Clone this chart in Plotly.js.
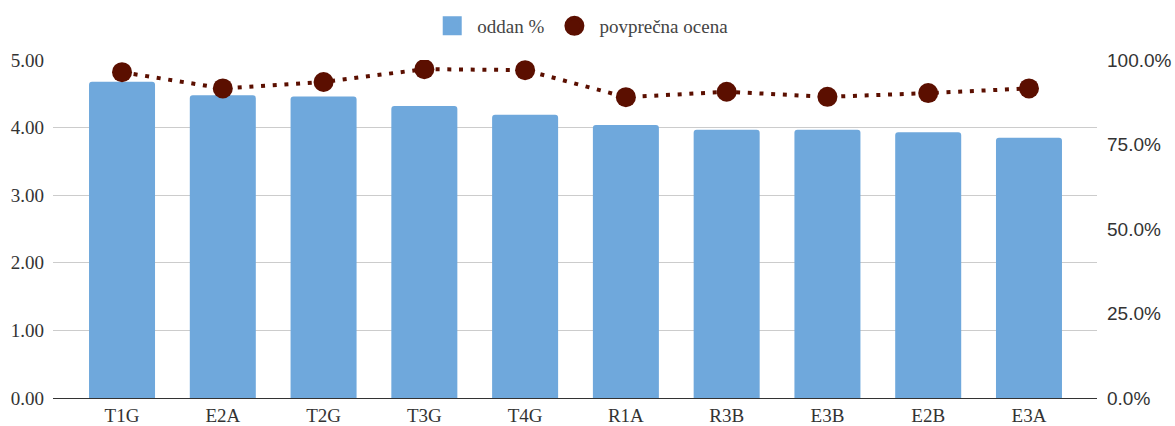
<!DOCTYPE html>
<html><head><meta charset="utf-8">
<script src="https://cdn.plot.ly/plotly-3.0.1.min.js"></script>
<style>html,body{margin:0;padding:0;background:#fff}#c{width:1175px;height:426px}</style>
</head><body><div id="c"></div>
<script>
var categories = ["T1G","E2A","T2G","T3G","T4G","R1A","R3B","E3B","E2B","E3A"];
var oddan = [4.68,4.48,4.46,4.32,4.19,4.04,3.97,3.97,3.93,3.85];
var ocena = [0.964,0.916,0.935,0.973,0.970,0.890,0.906,0.891,0.902,0.916];
var leftTicks = [0,1,2,3,4,5];
var leftLabels = ["0.00","1.00","2.00","3.00","4.00","5.00"];
var rightTicks = [0,0.25,0.5,0.75,1];
var rightLabels = ["0.0%","25.0%","50.0%","75.0%","100.0%"];
var barColor = "#6fa8dc";
var dotColor = "#5b0f00";

var serif = "Liberation Serif";
var sans = "Liberation Sans";

var traces = [
  {type:"bar", name:"oddan %", x:categories, y:oddan, yaxis:"y", showlegend:false,
   marker:{color:barColor}, width:0.655},
  {type:"scatter", mode:"lines+markers", name:"povprečna ocena", x:categories, y:ocena, yaxis:"y2",
   showlegend:false,
   line:{color:dotColor, width:4, dash:"4px,7.7px"},
   marker:{color:dotColor, size:20}},
  // legend-only entries (no data)
  {type:"scatter", mode:"markers", name:"oddan %", x:[null], y:[null], showlegend:true,
   marker:{symbol:"square", color:barColor, size:16, line:{color:barColor, width:3}}},
  {type:"scatter", mode:"markers", name:"povprečna ocena", x:[null], y:[null], yaxis:"y2", showlegend:true,
   marker:{symbol:"circle", color:dotColor, size:16, line:{color:dotColor, width:4}}}
];
var layout = {
  width:1175, height:426,
  margin:{l:53, r:78, t:60, b:28},
  font:{family:serif, size:19, color:"#333"},
  paper_bgcolor:"#fff", plot_bgcolor:"#fff",
  showlegend:true,
  legend:{orientation:"h", x:0.505, xanchor:"center", yref:"container", y:1-26/426, yanchor:"middle",
          font:{family:serif, size:19, color:"#444"}, traceorder:"normal", itemsizing:"trace",
          itemwidth:40},
  barcornerradius:3,
  xaxis:{type:"category", range:[-0.685,9.675], showgrid:false,
         showline:true, linecolor:"#333", linewidth:1, ticks:"",
         tickfont:{family:serif, size:19, color:"#333"}},
  yaxis:{range:[0,5], tickvals:leftTicks, ticktext:leftLabels, showgrid:true,
         gridcolor:"#cccccc", zeroline:false, ticks:"", ticklabelstandoff:8,
         tickfont:{family:serif, size:19, color:"#333"}},
  yaxis2:{range:[0,1], overlaying:"y", side:"right", tickvals:rightTicks, ticktext:rightLabels,
         showgrid:false, zeroline:false, ticks:"", ticklabelstandoff:9,
         tickfont:{family:sans, size:19, color:"#333"}}
};
Plotly.newPlot("c", traces, layout, {displayModeBar:false, staticPlot:true});
</script></body></html>
